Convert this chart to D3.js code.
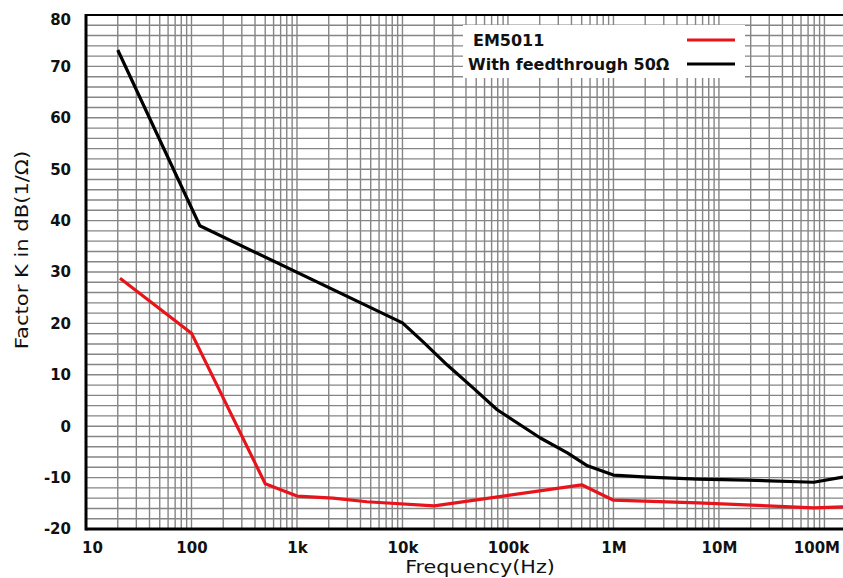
<!DOCTYPE html>
<html>
<head>
<meta charset="utf-8">
<script src="https://cdn.jsdelivr.net/npm/d3@7"></script>
<style>
	html, body { margin: 0; padding: 0; background: #fff; }
	svg { display: block; }
</style>
</head>
<body>
<svg id="chart" width="843" height="578"></svg>
<script>
/* Chart data */
const freqTicks = [10, 100, 1e3, 1e4, 1e5, 1e6, 1e7, 1e8];
const freqTickLabels = ["10", "100", "1k", "10k", "100k", "1M", "10M", "100M"];
const dbTicks = [-20, -10, 0, 10, 20, 30, 40, 50, 60, 70, 80];

const em5011Freq = [21, 100, 500, 1000, 2200, 4600, 20000, 500000, 1000000, 6300000, 79000000, 150000000];
const em5011Db = [28.8, 18.1, -11.2, -13.6, -14.0, -14.7, -15.5, -11.4, -14.4, -14.9, -15.9, -15.7];

const feedFreq = [20, 120, 10000, 15700, 26600, 47000, 79000, 203000, 366000, 567000, 1000000, 2100000, 6300000, 18700000, 79000000, 150000000];
const feedDb = [73.2, 39, 20.1, 16.4, 11.9, 7.4, 3.2, -2.3, -5.2, -7.7, -9.5, -9.9, -10.3, -10.5, -10.9, -9.9];

const seriesNames = ["EM5011", "With feedthrough 50Ω"];
const seriesColors = ["#e8141c", "#000000"];

/* Layout */
let width = 843;
let height = 578;
let margin = { top: 15, right: 0, bottom: 49, left: 86 };
let plotW = width - margin.left - margin.right;
let plotH = height - margin.top - margin.bottom;

let svg = d3.select("#chart");

let xScale = d3.scaleLog().domain([10, 1.5e8]).range([0, plotW]);
let yScale = d3.scaleLinear().domain([-20, 80]).range([plotH, 0]);

let g = svg.append("g").attr("transform", `translate(${margin.left},${margin.top})`);

// Minor grid: every 1..9 of each decade, every 2 dB
let vGrid = [];
freqTicks.forEach(function(d) {
	for (let m = 1; m < 10; m++) {
		if (d * m <= xScale.domain()[1]) vGrid.push(d * m);
	}
});
let hGrid = d3.range(-20, 81, 2);

g.append("g").attr("class", "grid-v")
	.selectAll("line").data(vGrid).enter().append("line")
	.attr("x1", function(d) { return xScale(d); })
	.attr("x2", function(d) { return xScale(d); })
	.attr("y1", 0).attr("y2", plotH)
	.attr("stroke", "#858585").attr("stroke-width", 1.4);

g.append("g").attr("class", "grid-h")
	.selectAll("line").data(hGrid).enter().append("line")
	.attr("x1", 0).attr("x2", plotW)
	.attr("y1", function(d) { return yScale(d); })
	.attr("y2", function(d) { return yScale(d); })
	.attr("stroke", "#858585").attr("stroke-width", 1.4);

// Legend box sits over the grid
let legend = g.append("g").attr("class", "legend").attr("transform", "translate(377,10)");
legend.append("rect").attr("width", 282).attr("height", 53).attr("fill", "#fff");

// Series
let clip = svg.append("clipPath").attr("id", "plotClip");
clip.append("rect").attr("width", plotW).attr("height", plotH);

let line = d3.line()
	.x(function(d) { return xScale(d[0]); })
	.y(function(d) { return yScale(d[1]); });

let series = [d3.zip(em5011Freq, em5011Db), d3.zip(feedFreq, feedDb)];
g.append("g").attr("clip-path", "url(#plotClip)")
	.selectAll("path").data(series).enter().append("path")
	.attr("d", line)
	.attr("fill", "none")
	.attr("stroke", function(d, i) { return seriesColors[i]; })
	.attr("stroke-width", 3.2)
	.attr("stroke-linejoin", "round");

// Frame: thick left and bottom, thinner top
g.append("line").attr("x1", 0).attr("x2", plotW).attr("y1", 0).attr("y2", 0)
	.attr("stroke", "#000").attr("stroke-width", 2);
g.append("line").attr("x1", 0).attr("x2", plotW).attr("y1", plotH).attr("y2", plotH)
	.attr("stroke", "#000").attr("stroke-width", 3);
g.append("line").attr("x1", 0).attr("x2", 0).attr("y1", -1).attr("y2", plotH + 1.5)
	.attr("stroke", "#000").attr("stroke-width", 3);

// Axes (plain hyphen for negatives, as in the source)
let xAxis = d3.axisBottom(xScale)
	.tickValues(freqTicks)
	.tickFormat(function(d, i) { return freqTickLabels[i]; })
	.tickSize(0).tickPadding(13);
let yAxis = d3.axisLeft(yScale)
	.tickValues(dbTicks)
	.tickFormat(function(d) { return String(d); })
	.tickSize(0).tickPadding(15);

let xg = g.append("g").attr("transform", `translate(0,${plotH})`).call(xAxis);
let yg = g.append("g").call(yAxis);
[xg, yg].forEach(function(a) {
	a.select(".domain").remove();
	a.selectAll("text")
		.attr("fill", "#111")
		.style("font-family", "DejaVu Sans")
		.style("font-weight", "bold")
		.style("font-size", "15px");
});
xg.selectAll("text").filter(function(d) { return d === 10; }).attr("dx", 6);
xg.selectAll("text").filter(function(d) { return d === 1e8; }).attr("dx", -8);
yg.selectAll("text").filter(function(d) { return d === 80; }).attr("dy", "0.65em");

// Axis titles (source font is wide, so stretch horizontally)
svg.append("text")
	.attr("transform", "translate(480,573) scale(1.22,1)")
	.attr("text-anchor", "middle")
	.style("font-family", "DejaVu Sans")
	.style("font-size", "17px")
	.attr("fill", "#111")
	.text("Frequency(Hz)");

svg.append("text")
	.attr("transform", "translate(28,250) rotate(-90) scale(1.24,1)")
	.attr("text-anchor", "middle")
	.style("font-family", "DejaVu Sans")
	.style("font-size", "17px")
	.attr("fill", "#111")
	.text("Factor K in dB(1/Ω)");

// Legend entries
let entries = legend.selectAll("g.entry").data(seriesNames).enter().append("g")
	.attr("class", "entry")
	.attr("transform", function(d, i) { return `translate(0,${15 + i * 24})`; });
entries.append("text")
	.attr("x", function(d, i) { return i === 0 ? 10 : 5; })
	.attr("dy", "0.36em")
	.style("font-family", "DejaVu Sans")
	.style("font-weight", "bold")
	.style("font-size", "16px")
	.attr("fill", "#111")
	.text(function(d) { return d; });
entries.append("line")
	.attr("x1", 224).attr("x2", 272)
	.attr("stroke", function(d, i) { return seriesColors[i]; })
	.attr("stroke-width", 3);
</script>
</body>
</html>
